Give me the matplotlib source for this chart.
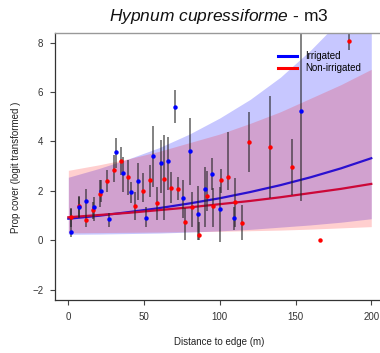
import numpy as np
import matplotlib
matplotlib.use("Agg")
import matplotlib.pyplot as plt
from matplotlib.lines import Line2D

plt.rcParams['font.family'] = ['Liberation Sans', 'DejaVu Sans']
plt.rcParams['mathtext.fontset'] = 'custom'
plt.rcParams['mathtext.it'] = 'Liberation Sans:italic'
plt.rcParams['mathtext.rm'] = 'Liberation Sans'

# Observed means with intervals, irrigated plots
irr_x = [1.8, 7.0, 11.9, 17.0, 21.8, 26.9, 31.7, 36.0, 41.4, 46.2, 51.1, 55.9,
         61.0, 65.6, 70.4, 75.7, 80.0, 85.4, 90.2, 94.9, 100.3, 109.4, 153.4]
irr_y = [0.35, 1.34, 1.60, 1.36, 1.98, 0.84, 3.59, 2.71, 1.94, 2.39, 0.92, 3.41,
         3.14, 3.20, 5.41, 1.70, 3.62, 1.08, 2.06, 2.67, 1.27, 0.90, 5.23]
irr_lo = [0.15, 0.90, 1.09, 0.78, 1.55, 0.55, 2.91, 1.97, 1.50, 1.63, 0.55, 2.17,
          1.91, 2.04, 4.74, 0.89, 2.24, 0.01, 0.55, 2.04, -0.06, 0.42, 1.60]
irr_hi = [1.30, 1.75, 2.06, 1.77, 2.44, 1.10, 4.13, 3.38, 2.37, 3.14, 1.36, 4.63,
          4.06, 4.18, 6.09, 2.44, 4.95, 2.20, 2.98, 3.32, 2.17, 1.36, 9.50]

# Observed means with intervals, non-irrigated plots
non_x = [1.6, 6.9, 11.5, 16.1, 20.7, 25.7, 30.2, 34.8, 39.6, 44.0, 49.1, 53.7,
         58.5, 63.0, 67.8, 72.6, 76.8, 81.9, 86.3, 91.3, 95.7, 100.6, 105.2,
         110.0, 114.7, 119.3, 133.1, 147.4, 166.0, 185.3]
non_y = [0.96, 1.39, 0.82, 1.23, 1.86, 2.40, 2.85, 3.21, 2.55, 1.40, 2.01, 2.44,
         1.51, 2.48, 2.12, 2.06, 0.73, 1.34, 0.20, 1.78, 1.39, 2.43, 2.58,
         1.54, 0.71, 3.98, 3.76, 2.97, 0.00, 8.08]
non_lo = [0.55, 0.95, 0.55, 0.85, 1.36, 1.97, 2.37, 2.64, 1.83, 0.82, 1.56, 1.77,
          0.82, 0.82, 1.50, 1.63, 0.01, 0.55, 0.00, 1.20, 0.55, 1.90, 2.04,
          0.55, 0.00, 2.78, 1.70, 1.83, np.nan, 7.70]
non_hi = [1.25, 1.80, 1.10, 1.55, 2.44, 2.85, 3.45, 3.79, 3.25, 1.97, 2.71, 3.05,
          2.17, 4.26, 2.78, 2.55, 1.30, 1.97, 0.75, 2.80, 2.10, 2.90, 4.40,
          2.51, 1.43, 5.21, 5.84, 4.09, np.nan, 9.50]

# Model predictions with confidence limits
pred_x = [0, 20, 40, 60, 80, 100, 120, 140, 160, 180, 200]
irr_fit = [0.87, 0.99, 1.14, 1.30, 1.49, 1.70, 1.95, 2.23, 2.55, 2.91, 3.32]
irr_upr = [2.55, 2.90, 3.30, 3.75, 4.30, 4.95, 5.70, 6.60, 7.70, 8.95, 10.40]
irr_lwr = [0.24, 0.25, 0.27, 0.29, 0.33, 0.38, 0.44, 0.53, 0.62, 0.73, 0.87]
non_fit = [0.93, 1.02, 1.11, 1.22, 1.33, 1.46, 1.59, 1.74, 1.91, 2.08, 2.28]
non_upr = [2.83, 3.05, 3.30, 3.60, 3.95, 4.30, 4.73, 5.20, 5.75, 6.30, 6.92]
non_lwr = [0.30, 0.31, 0.32, 0.33, 0.345, 0.36, 0.385, 0.41, 0.45, 0.50, 0.55]

x_ticks = [0, 50, 100, 150, 200]
y_ticks = [-2, 0, 2, 4, 6, 8]

W, H = 380, 353
fig = plt.figure(figsize=(W / 100, H / 100), dpi=100)
ax = fig.add_axes([55 / W, 1 - 300 / H, 329 / W, 267 / H])

ax.fill_between(pred_x, irr_lwr, irr_upr, color='#0000ff', alpha=0.22, lw=0)
ax.fill_between(pred_x, non_lwr, non_upr, color='#ff0000', alpha=0.19, lw=0)

ax.plot(pred_x, irr_fit, color='#2a10d0', lw=1.6, solid_joinstyle='round')
ax.plot(pred_x, non_fit, color='#cc0838', lw=1.6, solid_joinstyle='round')

ax.vlines(irr_x, irr_lo, irr_hi, color='#222222', alpha=0.72, lw=1.1)
ax.vlines(non_x, non_lo, non_hi, color='#222222', alpha=0.72, lw=1.1)

ax.plot(non_x, non_y, 'o', color='#ff0000', ms=3.2, mew=0)
ax.plot(irr_x, irr_y, 'o', color='#0000ff', ms=3.2, mew=0)

ax.set_xlim(-8.8, 208.4)
ax.set_ylim(-2.42, 8.39)
ax.set_xticks(x_ticks)
ax.set_yticks(y_ticks)
ax.tick_params(direction='out', length=3.5, width=0.8, labelsize=7,
               colors='#444444', labelcolor='#333333', pad=5)

for side in ['left', 'bottom']:
    ax.spines[side].set_color('#333333')
    ax.spines[side].set_linewidth(0.9)
ax.spines['top'].set_color('#999999')
ax.spines['top'].set_linewidth(1.0)
ax.spines['right'].set_visible(False)

fig.text(219 / W, 1 - 17 / H, r'$\it{Hypnum\ cupressiforme}$ - m3',
         ha='center', va='center', fontsize=12.5, color='#111111')
fig.text(219 / W, 1 - 342 / H, 'Distance to edge (m)',
         ha='center', va='center', fontsize=7, color='#222222')
fig.text(16 / W, 1 - 167 / H, 'Prop cover (logit transformed )',
         ha='center', va='center', rotation=90, fontsize=7, color='#222222')

handles = [Line2D([], [], color='#0000ff', lw=2.2),
           Line2D([], [], color='#ff0000', lw=2.2)]
ax.legend(handles, ['Irrigated', 'Non-irrigated'], loc='upper left',
          bbox_to_anchor=(278 / W, 1 - 51 / H), bbox_transform=fig.transFigure,
          frameon=False, fontsize=7, handlelength=2.0, handletextpad=0.8,
          labelspacing=0.25, borderpad=0, borderaxespad=0)

fig.savefig('out.png', dpi=100)
